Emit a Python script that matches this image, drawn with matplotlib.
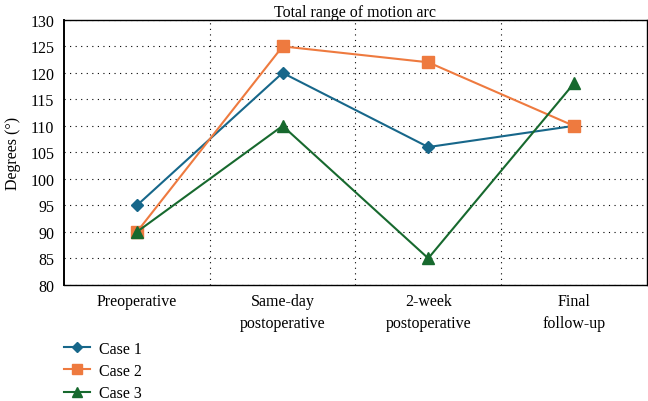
import matplotlib.pyplot as plt
import numpy as np

stages = ["Preoperative", "Same-day\npostoperative", "2-week\npostoperative", "Final\nfollow-up"]
case1 = [95, 120, 106, 110]
case2 = [90, 125, 122, 110]
case3 = [90, 110, 85, 118]

plt.rcParams["font.family"] = ["Liberation Serif", "DejaVu Serif"]
plt.rcParams["font.size"] = 11.5

fig = plt.figure(figsize=(6.48, 4.02), dpi=100)
ax = fig.add_axes([0.099, 0.289, 0.899, 0.659])

x = np.arange(len(stages))
l1, = ax.plot(x, case1, color="#17678a", marker="D", markersize=6, lw=1.5, label="Case 1")
l2, = ax.plot(x, case2, color="#ee7a3f", marker="s", markersize=8, lw=1.5, label="Case 2")
l3, = ax.plot(x, case3, color="#17692e", marker="^", markersize=8, lw=1.5, label="Case 3")

ax.set_xlim(-0.5, len(stages) - 0.5)
ax.set_ylim(80, 130)
ax.set_yticks(range(80, 131, 5))
ax.set_xticks(x)
ax.set_xticklabels(stages, linespacing=1.45)
ax.set_xticks(np.arange(0.5, len(stages) - 0.5, 1), minor=True)
ax.grid(axis="y", which="major", color="k", linestyle=(0, (1, 4)), lw=0.8)
ax.grid(axis="x", which="minor", color="k", linestyle=(0, (1, 4)), lw=0.8)
ax.tick_params(which="both", length=0, pad=6)
ax.tick_params(axis="y", pad=7)
for s in ax.spines.values():
    s.set_linewidth(1.0)
ax.spines["left"].set_linewidth(1.4)
ax.set_ylabel("Degrees (°)", labelpad=7)
ax.set_title("Total range of motion arc", fontsize=11.5, pad=1)

fig.legend(handles=[l1, l2, l3], loc="upper left", bbox_to_anchor=(0.099, 0.15),
           frameon=False, handlelength=1.6, handletextpad=0.6, labelspacing=0.4,
           borderaxespad=0, borderpad=0, markerscale=0.9)

fig.savefig("out.png", dpi=100)
